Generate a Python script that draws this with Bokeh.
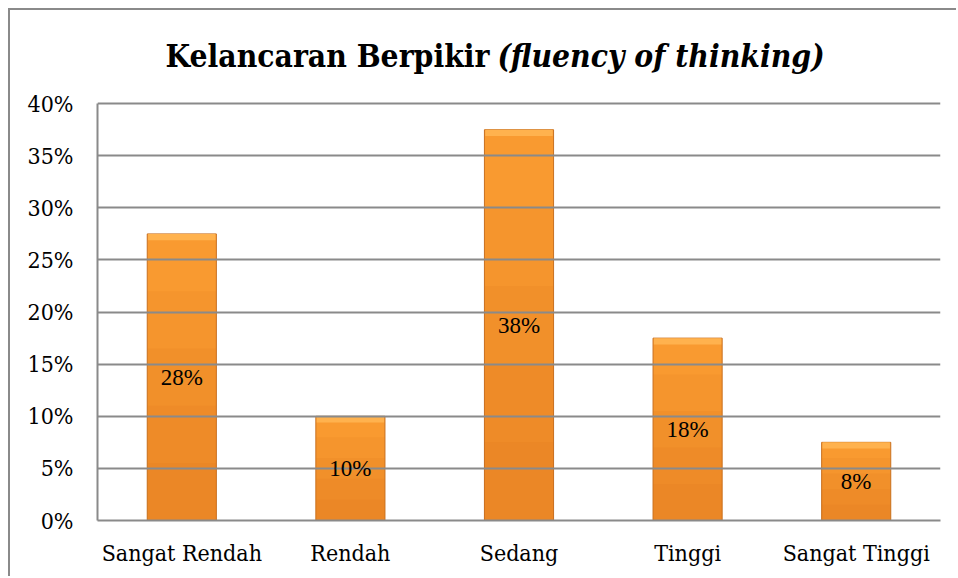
from bokeh.plotting import figure
from bokeh.models import ColumnDataSource, LabelSet, Label, NumeralTickFormatter, FixedTicker
from bokeh.embed import file_html
from bokeh.resources import INLINE

categories = ["Sangat Rendah", "Rendah", "Sedang", "Tinggi", "Sangat Tinggi"]
values = [0.275, 0.10, 0.375, 0.175, 0.075]
value_labels = ["28%", "10%", "38%", "18%", "8%"]
y_ticks = [0, 0.05, 0.10, 0.15, 0.20, 0.25, 0.30, 0.35, 0.40]

GRAY = "#8a8a8a"
FONT = "DejaVu Serif Condensed"

src = ColumnDataSource(dict(
    cat=categories,
    val=values,
    mid=[v / 2 for v in values],
    lab=value_labels,
    bevel=[v - 0.006 for v in values],
))

p = figure(x_range=categories, y_range=(0, 0.475), width=948, height=568,
           output_backend="svg", toolbar_location=None,
           min_border_left=87, min_border_right=18, min_border_top=15, min_border_bottom=58)
p.styles = {"border-left": f"2px solid {GRAY}", "border-top": f"2px solid {GRAY}",
            "margin-left": "8px", "margin-top": "8px"}
p.outline_line_color = None
p.background_fill_color = "white"
p.border_fill_color = "white"

p.vbar(x="cat", top="val", bottom=0, width=0.41, source=src,
       fill_color="#F99A30", line_color="#C87020", line_width=1, level="underlay")
for f in (0.8, 0.6, 0.4, 0.2):
    src.data["shade%d" % int(f * 10)] = [v * f for v in values]
    p.vbar(x="cat", top="shade%d" % int(f * 10), bottom=0, width=0.405, source=src,
           fill_color="#C85A10", fill_alpha=0.07, line_color=None, level="underlay")
p.vbar(x="cat", top="val", bottom="bevel", width=0.40, source=src,
       fill_color="#FFB24E", line_color=None, level="underlay")

p.ygrid.level = "glyph"
p.xgrid.grid_line_color = None
p.ygrid.grid_line_color = GRAY
p.ygrid.grid_line_width = 2
p.ygrid.ticker = FixedTicker(ticks=y_ticks)

p.yaxis.ticker = FixedTicker(ticks=y_ticks)
p.yaxis.formatter = NumeralTickFormatter(format="0%")
p.yaxis.bounds = (0, 0.40)
for ax in (p.xaxis[0], p.yaxis[0]):
    ax.axis_line_color = GRAY
    ax.axis_line_width = 2
    ax.major_tick_line_color = None
    ax.minor_tick_line_color = None
    ax.major_label_text_font = FONT
    ax.major_label_text_font_size = "23px"
    ax.major_label_text_color = "black"
p.yaxis.major_label_standoff = 18
p.xaxis.major_label_standoff = 13

labels = LabelSet(x="cat", y="mid", text="lab", source=src, text_align="center",
                  text_baseline="middle", text_font=FONT, text_font_size="23px",
                  text_color="black")
p.add_layout(labels)

t1 = Label(x=2.325, y=0.4463, text="Kelancaran Berpikir",
           text_font=FONT, text_font_size="31.5px", text_font_style="bold",
           text_align="right", text_baseline="alphabetic", text_color="black")
t2 = Label(x=2.372, y=0.4463, text="(fluency of thinking)",
           text_font=FONT, text_font_size="31.5px", text_font_style="bold italic",
           text_align="left", text_baseline="alphabetic", text_color="black")
p.add_layout(t1)
p.add_layout(t2)

open("out.html", "w").write(file_html(p, INLINE))
